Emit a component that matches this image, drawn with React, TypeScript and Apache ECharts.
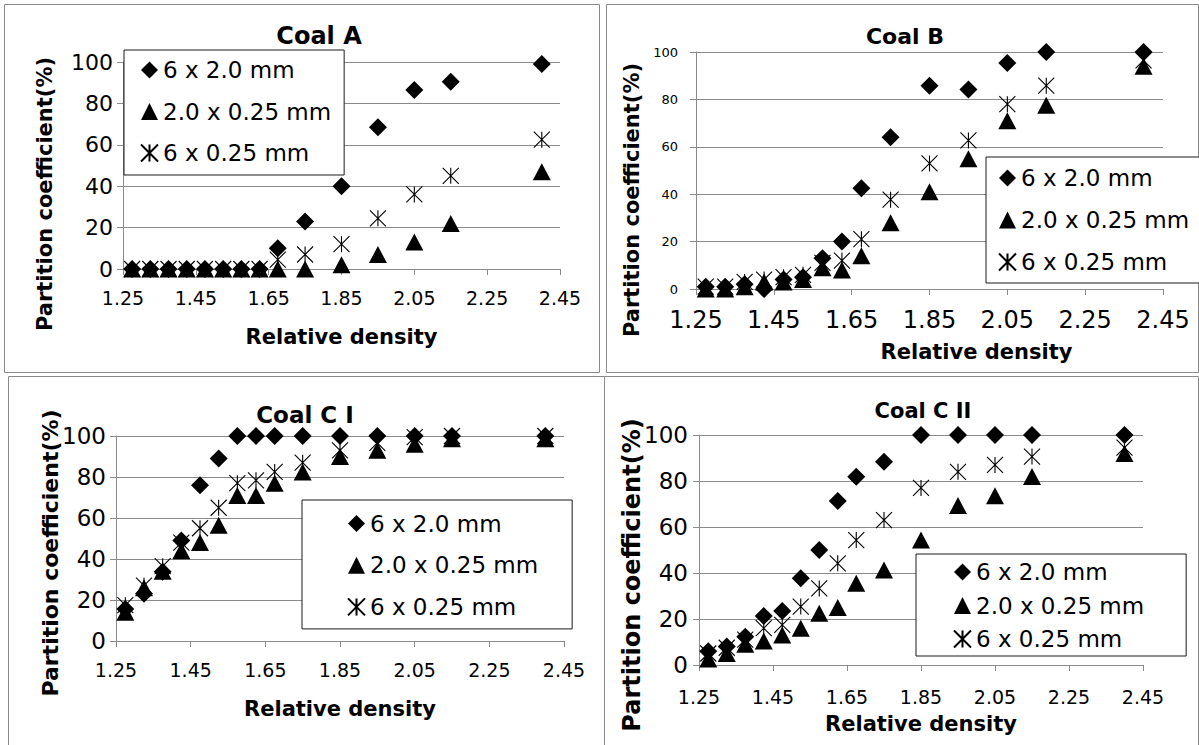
import React, { useEffect, useRef } from 'react';
import * as echarts from 'echarts';

// ---------- data ----------
const densities = [1.275, 1.325, 1.375, 1.425, 1.475, 1.525, 1.575, 1.625, 1.675, 1.75, 1.85, 1.95, 2.05, 2.15, 2.4];
const seriesNames = ['6 x 2.0 mm', '2.0 x 0.25 mm', '6 x 0.25 mm'];
const xTickValues = [1.25, 1.45, 1.65, 1.85, 2.05, 2.25, 2.45];
const yTickValues = [0, 20, 40, 60, 80, 100];
const panelTitles = ['Coal A', 'Coal B', 'Coal C I', 'Coal C II'];
const xAxisTitle = 'Relative density';
const yAxisTitle = 'Partition coefficient(%)';

const coalA_6x20 = [0, 0, 0, 0, 0, 0, 0, 0, 10, 23, 40, 68.5, 86.5, 90.5, 99];
const coalA_20x025 = [0, 0, 0, 0, 0, 0, 0, 0, 0, 0, 2, 7, 13, 22, 47];
const coalA_6x025 = [0, 0, 0, 0, 0, 0, 0, 0, 4.5, 7, 12, 24.5, 36, 45, 62.5];

const coalB_6x20 = [1, 1, 2, 0, 4, 5, 13, 20, 42.5, 64, 85.8, 84.2, 95.4, 100, 100];
const coalB_20x025 = [0, 0, 1, 3, 3, 4, 9, 8, 14, 28, 41, 55, 71, 77.5, 94];
const coalB_6x025 = [1, 1, 3, 4, 5, 6, 11, 12, 21, 37.7, 53, 62.7, 78, 85.8, 96.5];

const coalCI_6x20 = [15.6, 23, 33.8, 49, 76, 89, 100, 100, 100, 100, 100, 100, 100, 100, 100];
const coalCI_20x025 = [14, 26, 34, 44, 48, 56.5, 71, 71, 77, 82.5, 90, 93, 96, 98.7, 98.7];
const coalCI_6x025 = [17.5, 27, 36.5, 48, 55, 65, 77, 78.4, 82.5, 87, 93, 96.6, 99.5, 100, 100];

const coalCII_6x20 = [6, 8, 12.3, 21.3, 23.5, 37.7, 50, 71.3, 81.9, 88.4, 100, 100, 100, 100, 100];
const coalCII_20x025 = [2.6, 5, 9, 10.4, 13, 16, 22.5, 25, 35.5, 41.3, 54.3, 69.3, 73.6, 82, 92];
const coalCII_6x025 = [5, 7.5, 11, 16, 17.4, 25.4, 33.3, 44.2, 54.3, 63, 77, 84, 87, 90.6, 94.5];

const panelData = [
  [coalA_6x20, coalA_20x025, coalA_6x025],
  [coalB_6x20, coalB_20x025, coalB_6x025],
  [coalCI_6x20, coalCI_20x025, coalCI_6x025],
  [coalCII_6x20, coalCII_20x025, coalCII_6x025],
];

// ---------- layout / style ----------
const FONT = '"DejaVu Sans", sans-serif';
const GRAY = '#8a8a8a';
const STAR = 'path://M0,0L16,16M16,0L0,16M8,0L8,16';

const layout = [
  {
    grid: { left: 123, top: 62, width: 437, height: 207 },
    title: { x: 319, top: 24, size: 24 },
    yLabel: { size: 22, margin: 10 },
    xLabel: { size: 19, margin: 19 },
    yName: { x: 45, y: 194, size: 21 },
    xName: { gap: 57, size: 21, shift: 0 },
    legend: { left: 124, top: 50, pad: [8, 13, 10, 16], gap: 17.5 },
    border: { x: 4, y: 4, w: 595, h: 368 },
  },
  {
    grid: { left: 696, top: 52, width: 467, height: 237 },
    title: { x: 905, top: 25, size: 22 },
    yLabel: { size: 13, margin: 18 },
    xLabel: { size: 24, margin: 19 },
    yName: { x: 632, y: 200, size: 21 },
    xName: { gap: 52, size: 21, shift: 47 },
    legend: { left: 986, top: 157, pad: [9, 24, 9, 12], gap: 18 },
    border: { x: 606, y: 4, w: 592, h: 368 },
  },
  {
    grid: { left: 116, top: 436, width: 448, height: 205 },
    title: { x: 305, top: 403, size: 23 },
    yLabel: { size: 23, margin: 10 },
    xLabel: { size: 19, margin: 19 },
    yName: { x: 50, y: 553, size: 22 },
    xName: { gap: 57, size: 21, shift: 0 },
    legend: { left: 302, top: 500, pad: [11.5, 34, 10, 45], gap: 17.7 },
    border: { x: 8, y: 376, w: 596, h: 380 },
  },
  {
    grid: { left: 699, top: 435, width: 444, height: 230 },
    title: { x: 923, top: 400, size: 21 },
    yLabel: { size: 23, margin: 11 },
    xLabel: { size: 19, margin: 22 },
    yName: { x: 632, y: 575, size: 24 },
    xName: { gap: 48, size: 21, shift: 0 },
    legend: { left: 916, top: 554, pad: [6, 42, 5, 37], gap: 9.5 },
    border: { x: 604, y: 376, w: 594, h: 380 },
  },
];

function buildOption() {
  const grid: any[] = [];
  const xAxis: any[] = [];
  const yAxis: any[] = [];
  const series: any[] = [];
  const title: any[] = [];
  const legend: any[] = [];
  const graphic: any[] = [];

  layout.forEach((L, i) => {
    grid.push({ ...L.grid, containLabel: false });
    xAxis.push({
      type: 'value',
      gridIndex: i,
      min: xTickValues[0],
      max: xTickValues[xTickValues.length - 1],
      interval: 0.2,
      name: xAxisTitle,
      nameLocation: 'middle',
      nameGap: L.xName.gap,
      nameTextStyle: {
        fontFamily: FONT,
        fontWeight: 'bold',
        fontSize: L.xName.size,
        color: '#000',
        padding: L.xName.shift ? [0, 0, 0, L.xName.shift * 2] : 0,
      },
      axisLine: { show: true, onZero: false, lineStyle: { color: GRAY, width: 1 } },
      axisTick: { show: true, length: 6, lineStyle: { color: GRAY } },
      axisLabel: {
        fontFamily: FONT,
        fontSize: L.xLabel.size,
        color: '#000',
        margin: L.xLabel.margin,
        formatter: (v: number) => v.toFixed(2),
      },
      splitLine: { show: false },
    });
    yAxis.push({
      type: 'value',
      gridIndex: i,
      min: yTickValues[0],
      max: yTickValues[yTickValues.length - 1],
      interval: 20,
      axisLine: { show: true, lineStyle: { color: GRAY, width: 1 } },
      axisTick: { show: true, length: 6, lineStyle: { color: GRAY } },
      axisLabel: { fontFamily: FONT, fontSize: L.yLabel.size, color: '#000', margin: L.yLabel.margin },
      splitLine: { show: true, lineStyle: { color: GRAY, width: 1 } },
    });

    const [d, t, s] = panelData[i];
    series.push({
      type: 'scatter',
      name: seriesNames[0],
      xAxisIndex: i,
      yAxisIndex: i,
      symbol: 'diamond',
      symbolSize: [18, 18],
      itemStyle: { color: '#000', opacity: 1 },
      data: densities.map((x, k) => [x, d[k]]),
    });
    series.push({
      type: 'scatter',
      name: seriesNames[1],
      xAxisIndex: i,
      yAxisIndex: i,
      symbol: 'triangle',
      symbolSize: [18, 17],
      itemStyle: { color: '#000', opacity: 1 },
      data: densities.map((x, k) => [x, t[k]]),
    });
    series.push({
      type: 'scatter',
      name: seriesNames[2],
      xAxisIndex: i,
      yAxisIndex: i,
      symbol: STAR,
      symbolSize: [16, 16],
      itemStyle: { color: '#000', borderColor: '#000', borderWidth: 1.1, opacity: 1 },
      data: densities.map((x, k) => [x, s[k]]),
    });

    title.push({
      text: panelTitles[i],
      left: L.title.x,
      top: L.title.top,
      textAlign: 'center',
      padding: 0,
      textStyle: { fontFamily: FONT, fontWeight: 'bold', fontSize: L.title.size, color: '#000' },
    });

    legend.push({
      show: true,
      orient: 'vertical',
      left: L.legend.left,
      top: L.legend.top,
      padding: L.legend.pad,
      itemGap: L.legend.gap,
      itemWidth: 17,
      itemHeight: 17,
      align: 'left',
      selectedMode: false,
      data: seriesNames,
      backgroundColor: '#fff',
      borderColor: '#1a1a1a',
      borderWidth: 1,
      itemStyle: { opacity: 1 },
      textStyle: { fontFamily: FONT, fontSize: 23, color: '#000', lineHeight: 24 },
    });

    graphic.push({
      type: 'rect',
      shape: { x: L.border.x + 0.5, y: L.border.y + 0.5, width: L.border.w, height: L.border.h },
      style: { fill: 'none', stroke: GRAY, lineWidth: 1 },
      silent: true,
      z: -10,
    });
    graphic.push({
      type: 'text',
      x: L.yName.x,
      y: L.yName.y,
      rotation: Math.PI / 2,
      style: {
        text: yAxisTitle,
        fontFamily: FONT,
        fontWeight: 'bold',
        fontSize: L.yName.size,
        fill: '#000',
        align: 'center',
        verticalAlign: 'middle',
      },
      silent: true,
    });
  });

  return {
    animation: false,
    backgroundColor: '#fff',
    grid,
    xAxis,
    yAxis,
    series,
    title,
    legend,
    graphic,
  };
}

export default function App() {
  const ref = useRef<HTMLDivElement>(null);
  useEffect(() => {
    document.body.style.margin = '0';
    const chart = echarts.init(ref.current as HTMLDivElement, null, { renderer: 'svg', width: 1199, height: 745 });
    chart.setOption(buildOption() as any);
    return () => chart.dispose();
  }, []);
  return (
    <div
      ref={ref}
      style={{ position: 'absolute', left: 0, top: 0, width: 1199, height: 745, background: '#fff' }}
    />
  );
}
